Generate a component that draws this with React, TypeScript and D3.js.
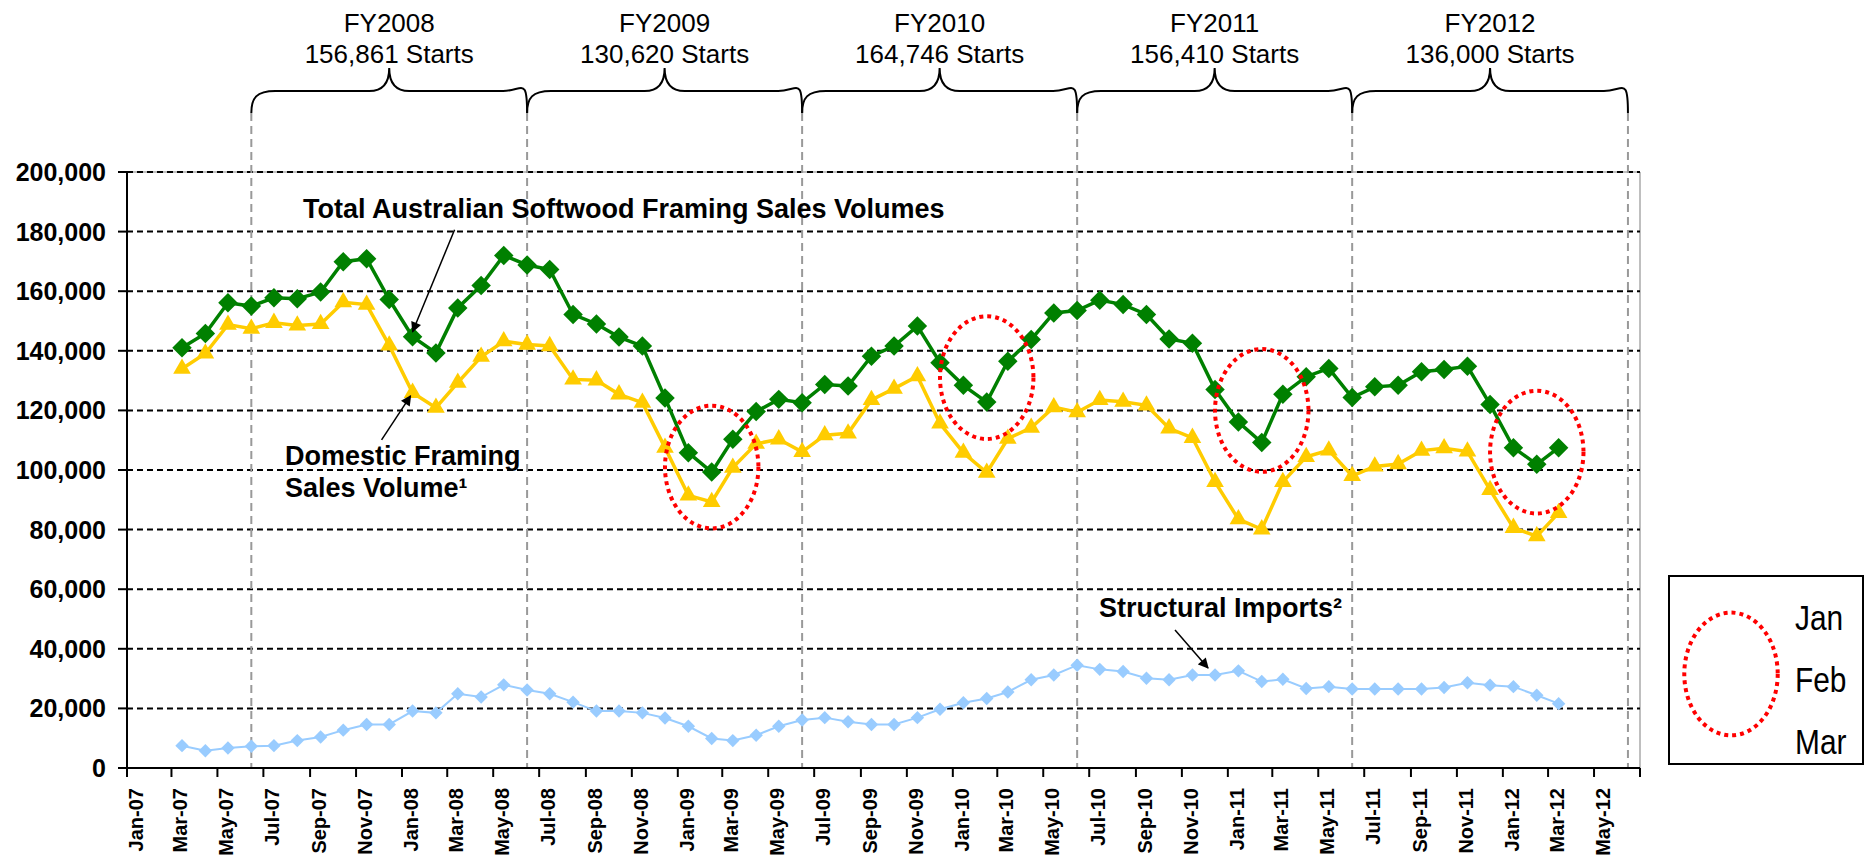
import React from 'react';
import * as d3 from 'd3';

// monthly values, Mar-07 .. Mar-12
const firstMonth = new Date(2007, 2, 15);

const totalSales = [
  141000, 145800, 156100, 155000, 157800, 157500, 159700, 169900, 170900, 157200,
  144700, 139300, 154400, 161900, 172000, 168800, 167300, 152200, 149000, 144600, 141600, 124200,
  105800, 99300, 110300, 119600, 123700, 122600, 128700, 128200, 138200, 141600, 148300, 136000,
  128400, 122800, 136500, 143800, 152700, 153500, 157000, 155500, 152200, 144000, 142500, 127000,
  116100, 109200, 125400, 131300, 134100, 124300, 127900, 128400, 133000, 133700, 134800, 122000,
  107500, 101900, 107500,
];

const domesticSales = [
  134000, 139100, 148800, 147400, 149400, 148500, 149000, 156300, 155500, 141800,
  125900, 120900, 129300, 138000, 143200, 142100, 141600, 130400, 130100, 125400, 122600, 107500,
  91500, 89300, 100800, 108800, 110300, 106100, 111700, 112300, 123500, 127300, 131500, 115600,
  105800, 99100, 110500, 114200, 121100, 119400, 123500, 122900, 121700, 114000, 110800, 96000,
  83500, 80100, 96000, 104400, 106600, 98000, 101200, 102000, 106500, 107300, 106200, 93300,
  80600, 77800, 85600,
];

const structuralImports = [
  7500, 5800, 6700, 7300, 7500, 9200, 10400, 12700, 14600, 14600,
  19100, 18500, 24900, 23800, 27900, 26200, 24900, 22100, 19100, 19100, 18500, 16800,
  14000, 9900, 9200, 11000, 14000, 16100, 16900, 15500, 14600, 14600, 16900, 19700,
  21900, 23300, 25500, 29600, 31200, 34500, 33100, 32400, 30100, 29600, 31200, 31200,
  32600, 29000, 29800, 26700, 27300, 26500, 26500, 26500, 26500, 27000, 28600, 27800,
  27300, 24400, 21600,
];

const yTicks = [0, 20000, 40000, 60000, 80000, 100000, 120000, 140000, 160000, 180000, 200000];

const fyLabels = ['FY2008', 'FY2009', 'FY2010', 'FY2011', 'FY2012'];
const fyStarts = ['156,861', '130,620', '164,746', '156,410', '136,000'];
const fyDividerYears = [2007, 2008, 2009, 2010, 2011, 2012];

// Jan-Mar lows that are circled
const lowYears = [2009, 2010, 2011, 2012];
const lowCentres = [101000, 131000, 120000, 106000];
const legendMonths = ['Jan', 'Feb', 'Mar'];

const W = 1865, H = 857;
const left = 127, right = 1640, top = 172, bottom = 768;
const font = '"Liberation Sans", Arial, sans-serif';

const App = () => {
  const x = d3.scaleTime()
    .domain([new Date(2007, 0, 1), new Date(2012, 6, 1)])
    .range([left, right]);
  const y = d3.scaleLinear().domain([0, 200000]).range([bottom, top]);

  const months = totalSales.map((_, i) => d3.timeMonth.offset(firstMonth, i));
  const line = d3.line<number>().x((_, i) => x(months[i])).y(d => y(d));

  const xTicks = d3.timeMonth.every(2)!.range(new Date(2007, 0, 1), new Date(2012, 6, 2));
  const fmt = d3.timeFormat('%b-%y');

  const diamond = d3.symbol(d3.symbolSquare, 190)();
  const smallDiamond = d3.symbol(d3.symbolSquare, 90)();
  const triangle = d3.symbol(d3.symbolTriangle, 135)();

  const dividers = fyDividerYears.map(yr => x(new Date(yr, 5, 15)));
  const braceTop = 68, braceMid = 91, braceBot = 113;

  const bracePath = (x0: number, x1: number) => {
    const m = (x0 + x1) / 2;
    return `M${x0},${braceBot} C${x0},${braceBot - 15} ${x0 + 5},${braceMid} ${x0 + 24},${braceMid}`
      + ` L${m - 20},${braceMid} C${m - 6},${braceMid} ${m},${braceMid - 8} ${m},${braceTop}`
      + ` C${m},${braceMid - 8} ${m + 6},${braceMid} ${m + 20},${braceMid}`
      + ` L${x1 - 24},${braceMid} C${x1 - 5},${braceMid} ${x1},${braceMid - 15} ${x1},${braceBot}`;
  };

  const ry = y(0) - y(20600);
  const rxOf = (yr: number) => x(d3.timeDay.offset(new Date(yr, 1, 15), 62)) - x(new Date(yr, 1, 15));

  const jan08 = months[10];
  const dec10 = months[45];
  const tA = { x: x(jan08), y: y(totalSales[10]) };
  const dA = { x: x(jan08), y: y(domesticSales[10]) };
  const iA = { x: x(dec10), y: y(structuralImports[45]) };

  return (
    <svg width={W} height={H} style={{ position: 'absolute', left: 0, top: 0, background: '#fff' }}
      fontFamily={font}>
      <defs>
        <marker id="arrow" viewBox="0 0 10 10" refX="9" refY="5" markerWidth="8" markerHeight="7"
          orient="auto" markerUnits="strokeWidth">
          <path d="M0,0 L10,5 L0,10 z" fill="#000" />
        </marker>
      </defs>

      {/* FY braces and labels */}
      {fyLabels.map((lab, i) => {
        const m = (dividers[i] + dividers[i + 1]) / 2;
        return (
          <g key={lab}>
            <path d={bracePath(dividers[i], dividers[i + 1])} fill="none" stroke="#000" strokeWidth={2} />
            <text x={m} y={32} textAnchor="middle" fontSize={26}>{lab}</text>
            <text x={m} y={63} textAnchor="middle" fontSize={26}>{fyStarts[i]} Starts</text>
          </g>
        );
      })}

      {/* plot border */}
      <line x1={left} x2={right} y1={top} y2={top} stroke="#bfbfbf" strokeWidth={2} />
      <line x1={right} x2={right} y1={top} y2={bottom} stroke="#bfbfbf" strokeWidth={2} />

      {/* gridlines */}
      {yTicks.filter(t => t > 0).map(t => (
        <line key={t} x1={left} x2={right} y1={y(t)} y2={y(t)} stroke="#000" strokeWidth={2}
          strokeDasharray="6,4" />
      ))}

      {/* FY dividers */}
      {dividers.map((dx, i) => (
        <line key={i} x1={dx} x2={dx} y1={braceBot} y2={bottom} stroke="#999" strokeWidth={2}
          strokeDasharray="8,5" />
      ))}

      {/* y axis */}
      <line x1={left} x2={left} y1={top} y2={bottom} stroke="#000" strokeWidth={2} />
      {yTicks.map(t => (
        <g key={t}>
          <line x1={left - 9} x2={left} y1={y(t)} y2={y(t)} stroke="#000" strokeWidth={2} />
          <text x={left - 21} y={y(t)} dy="0.36em" textAnchor="end" fontSize={25} fontWeight="bold">
            {d3.format(',')(t)}
          </text>
        </g>
      ))}

      {/* x axis */}
      <line x1={left} x2={right} y1={bottom} y2={bottom} stroke="#000" strokeWidth={2} />
      {xTicks.map((d, i) => (
        <g key={i}>
          <line x1={x(d)} x2={x(d)} y1={bottom} y2={bottom + 9} stroke="#000" strokeWidth={2} />
          {i < xTicks.length - 1 && (
            <text transform={`translate(${x(d) + 9},${bottom + 20}) rotate(-90)`} textAnchor="end"
              dominantBaseline="central" fontSize={20} fontWeight="bold">
              {fmt(d)}
            </text>
          )}
        </g>
      ))}

      {/* series */}
      <path d={line(structuralImports)!} fill="none" stroke="#99ccff" strokeWidth={2} />
      {structuralImports.map((v, i) => (
        <path key={i} d={smallDiamond!} transform={`translate(${x(months[i])},${y(v)}) rotate(45)`}
          fill="#99ccff" />
      ))}
      <path d={line(domesticSales)!} fill="none" stroke="#ffcc00" strokeWidth={3.5} />
      {domesticSales.map((v, i) => (
        <path key={i} d={triangle!} transform={`translate(${x(months[i])},${y(v)})`} fill="#ffcc00" />
      ))}
      <path d={line(totalSales)!} fill="none" stroke="#008000" strokeWidth={3.5} />
      {totalSales.map((v, i) => (
        <path key={i} d={diamond!} transform={`translate(${x(months[i])},${y(v)}) rotate(45)`}
          fill="#008000" />
      ))}

      {/* circled Jan-Mar lows */}
      {lowYears.map((yr, i) => (
        <ellipse key={yr} cx={x(new Date(yr, 1, 15))} cy={y(lowCentres[i])} rx={rxOf(yr)} ry={ry}
          fill="none" stroke="#ff0000" strokeWidth={4} strokeDasharray="4,4" />
      ))}

      {/* annotations */}
      <text x={303} y={218} fontSize={27} fontWeight="bold">Total Australian Softwood Framing Sales Volumes</text>
      <line x1={tA.x + 42} y1={tA.y - 107} x2={tA.x} y2={tA.y - 5} stroke="#000" strokeWidth={1.5}
        markerEnd="url(#arrow)" />
      <text x={285} y={465} fontSize={27} fontWeight="bold">Domestic Framing</text>
      <text x={285} y={497} fontSize={27} fontWeight="bold">Sales Volume¹</text>
      <line x1={dA.x - 31} y1={dA.y + 47} x2={dA.x - 2} y2={dA.y + 3} stroke="#000" strokeWidth={1.5}
        markerEnd="url(#arrow)" />
      <text x={1099} y={617} fontSize={27} fontWeight="bold">Structural Imports²</text>
      <line x1={iA.x - 40} y1={iA.y - 45} x2={iA.x - 7} y2={iA.y - 7} stroke="#000" strokeWidth={1.5}
        markerEnd="url(#arrow)" />

      {/* legend */}
      <rect x={1669} y={576} width={194} height={188} fill="#fff" stroke="#000" strokeWidth={2} />
      <ellipse cx={1731} cy={674} rx={rxOf(2010)} ry={ry} fill="none" stroke="#ff0000" strokeWidth={4}
        strokeDasharray="4,4" />
      {legendMonths.map((m, i) => (
        <text key={m} transform={`translate(1795,${630 + i * 62}) scale(0.83,1)`} fontSize={36}>{m}</text>
      ))}
    </svg>
  );
};

export default App;
